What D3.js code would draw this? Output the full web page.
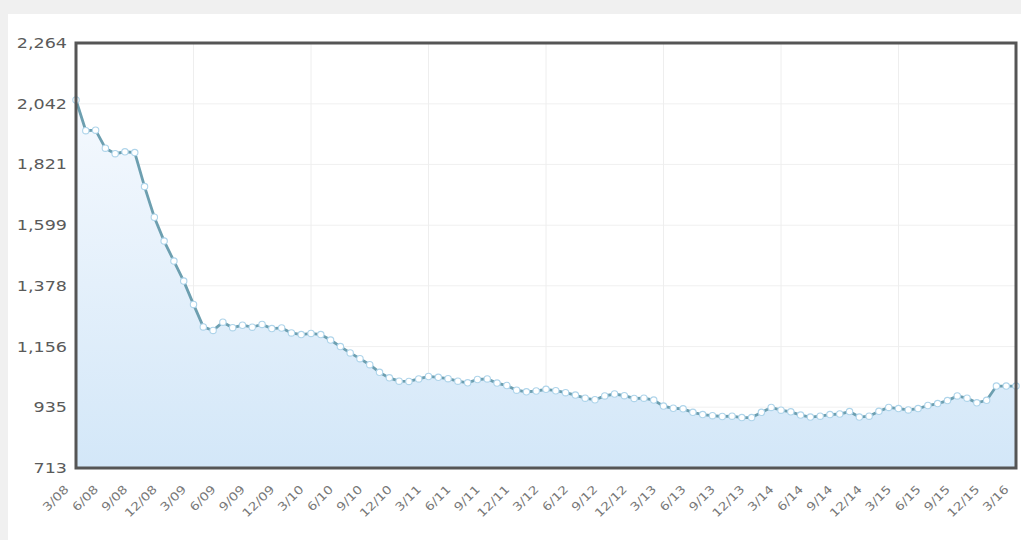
<!DOCTYPE html>
<html>
<head>
<meta charset="utf-8">
<script src="https://cdn.jsdelivr.net/npm/d3@7"></script>
<style>
  html, body { margin: 0; padding: 0; background: #f0f0f0; }
  svg { display: block; }
</style>
</head>
<body>
<svg id="chart"></svg>
<script>
// monthly values, 3/08 .. 3/16
const values = [
    2056, 1944, 1946, 1880, 1860, 1867, 1864, 1740, 1628, 1541, 1468, 1395,
    1310, 1228, 1215, 1245, 1225, 1234, 1227, 1237, 1222, 1224, 1206, 1200,
    1204, 1200, 1180, 1156, 1133, 1112, 1090, 1062, 1042, 1030, 1029, 1038,
    1047, 1044, 1039, 1030, 1024, 1036, 1038, 1023, 1014, 997, 991, 994,
    1000, 995, 988, 979, 968, 962, 976, 983, 977, 967, 968, 961,
    939, 931, 929, 916, 908, 904, 901, 902, 897, 897, 916, 934,
    924, 918, 906, 899, 902, 908, 910, 919, 899, 902, 920, 934,
    930, 925, 930, 941, 948, 959, 976, 968, 951, 960, 1012, 1012,
    1012
]

// one label every third month
const tickLabels = [
    '3/08', '6/08', '9/08', '12/08', '3/09', '6/09', '9/09', '12/09',
    '3/10', '6/10', '9/10', '12/10', '3/11', '6/11', '9/11', '12/11',
    '3/12', '6/12', '9/12', '12/12', '3/13', '6/13', '9/13', '12/13',
    '3/14', '6/14', '9/14', '12/14', '3/15', '6/15', '9/15', '12/15',
    '3/16'
]

const yTicks = [713, 935, 1156, 1378, 1599, 1821, 2042, 2264]

const width = 1021
const height = 540
const plot = { left: 76, right: 1016, top: 43, bottom: 468 }

const svg = d3.select('#chart')
    .attr('width', width)
    .attr('height', height)

// white panel over the grey page
svg.append('rect')
    .attr('x', 8).attr('y', 14)
    .attr('width', width - 8).attr('height', height - 14)
    .attr('fill', '#ffffff')

const xScale = d3.scaleLinear().domain([0, values.length - 1]).range([plot.left, plot.right])
const yScale = d3.scaleLinear().domain([713, 2264]).range([plot.bottom, plot.top])

const defs = svg.append('defs')
const grad = defs.append('linearGradient')
    .attr('id', 'areaFill')
    .attr('x1', 0).attr('y1', 0).attr('x2', 0).attr('y2', 1)
grad.append('stop').attr('offset', '0%').attr('stop-color', '#f5f9fe')
grad.append('stop').attr('offset', '100%').attr('stop-color', '#d3e7f8')

// grid
const grid = svg.append('g')
grid.selectAll('line.h')
    .data(yTicks)
    .join('line')
    .attr('class', 'h')
    .attr('x1', plot.left).attr('x2', plot.right)
    .attr('y1', d => yScale(d)).attr('y2', d => yScale(d))
    .attr('stroke', '#f0f0f0')
    .attr('stroke-width', 1)

const yearIdx = d3.range(12, values.length - 1, 12)
grid.selectAll('line.v')
    .data(yearIdx)
    .join('line')
    .attr('class', 'v')
    .attr('x1', d => xScale(d)).attr('x2', d => xScale(d))
    .attr('y1', plot.top).attr('y2', plot.bottom)
    .attr('stroke', '#eeeeee')
    .attr('stroke-width', 1)

// area + line
const area = d3.area()
    .x((d, i) => xScale(i))
    .y0(plot.bottom)
    .y1(d => yScale(d))

svg.append('path')
    .datum(values)
    .attr('d', area)
    .attr('fill', 'url(#areaFill)')

const line = d3.line()
    .x((d, i) => xScale(i))
    .y(d => yScale(d))

svg.append('path')
    .datum(values)
    .attr('d', line)
    .attr('fill', 'none')
    .attr('stroke', '#6d9fb0')
    .attr('stroke-width', 2.8)

svg.append('g')
    .selectAll('circle')
    .data(values)
    .join('circle')
    .attr('cx', (d, i) => xScale(i))
    .attr('cy', d => yScale(d))
    .attr('r', 3.2)
    .attr('fill', '#ffffff')
    .attr('stroke', '#aed4ea')
    .attr('stroke-width', 1.1)

// frame
svg.append('rect')
    .attr('x', plot.left).attr('y', plot.top)
    .attr('width', plot.right - plot.left)
    .attr('height', plot.bottom - plot.top)
    .attr('fill', 'none')
    .attr('stroke', '#555555')
    .attr('stroke-width', 3)

// y axis
const yAxis = d3.axisLeft(yScale)
    .tickValues(yTicks)
    .tickFormat(d3.format(','))
    .tickSize(0)
    .tickPadding(0)

const yAxisGroup = svg.append('g')
    .attr('transform', `translate(${plot.left - 9},0)`)
    .call(yAxis)
yAxisGroup.select('.domain').remove()
yAxisGroup.selectAll('.tick').attr('transform', null)
yAxisGroup.selectAll('text')
    .attr('x', null)
    .attr('dy', null)
    .attr('y', 0)
    .attr('transform', d => `translate(0,${yScale(d) + 5}) scale(1.3,1)`)
    .attr('fill', '#5a5a5a')
    .style('font-family', 'DejaVu Sans, Verdana, sans-serif')
    .style('font-size', '13.5px')

// x axis
const xTickIdx = tickLabels.map((t, i) => i * 3)
const xAxis = d3.axisBottom(xScale)
    .tickValues(xTickIdx)
    .tickFormat((d, i) => tickLabels[i])
    .tickSize(0)

const xAxisGroup = svg.append('g')
    .attr('transform', `translate(0,${plot.bottom})`)
    .call(xAxis)
xAxisGroup.select('.domain').remove()
xAxisGroup.selectAll('text')
    .attr('y', 0)
    .attr('dy', null)
    .attr('text-anchor', 'end')
    .attr('transform', 'translate(-7,22) rotate(-45) scale(1.2,1)')
    .attr('fill', '#777777')
    .style('font-family', 'DejaVu Sans, Verdana, sans-serif')
    .style('font-size', '11.5px')
</script>
</body>
</html>
